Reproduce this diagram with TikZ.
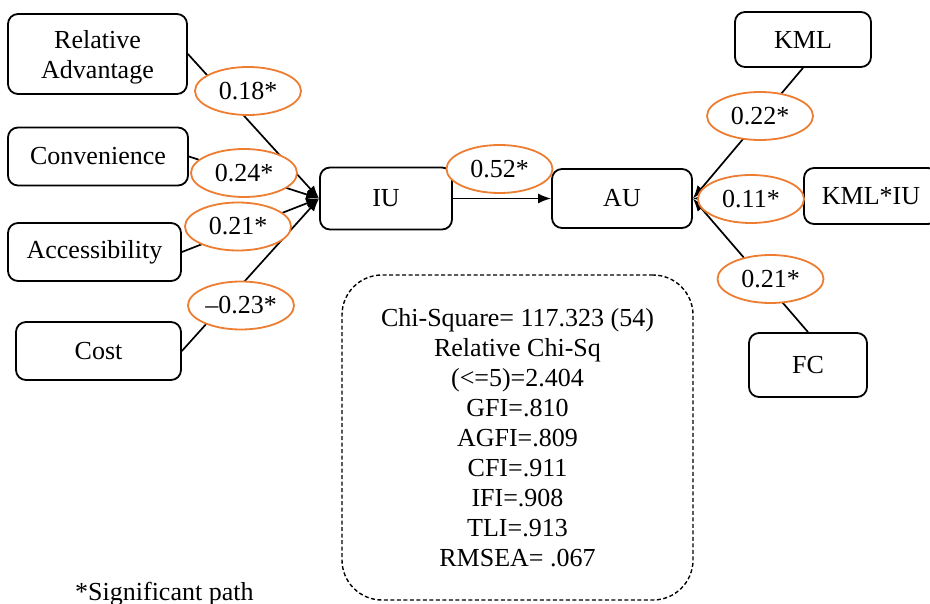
\documentclass[tikz,border=0pt]{standalone}
\usepackage{fontspec}
\setmainfont{Liberation Serif}
\usetikzlibrary{shapes.geometric,arrows.meta}
\definecolor{lblorange}{RGB}{237,125,49}
\begin{document}
\begin{tikzpicture}[x=1pt,y=-1pt,
 box/.style={draw,line width=1.8pt,rounded corners=10pt,inner sep=0pt,font=\fontsize{26}{30}\selectfont,align=center},
 coef/.style={ellipse,draw=lblorange,line width=1.8pt,fill=white,minimum width=106pt,minimum height=48pt,inner sep=0pt,font=\fontsize{26}{30}\selectfont},
 conn/.style={line width=1.7pt,-{Latex[length=13pt,width=10pt]}}]
\useasboundingbox (0,0) rectangle (930,604);
\node[box,minimum width=179pt,minimum height=80pt] (ra) at (97.5,54) {Relative\\\smash{Advantage}};
\node[box,minimum width=180pt,minimum height=58pt] (conv) at (98,156.5) {Convenience};
\node[box,minimum width=173pt,minimum height=58pt] (acc) at (94.5,252) {Accessibility};
\node[box,minimum width=165pt,minimum height=58pt] (cost) at (98.5,351) {Cost};
\node[box,minimum width=132pt,minimum height=62pt] (iu) at (386,198.5) {IU};
\node[box,minimum width=140pt,minimum height=59pt] (au) at (622,198.5) {AU};
\node[box,minimum width=136pt,minimum height=55pt] (kml) at (803,39.5) {KML};
\node[box,minimum width=134pt,minimum height=56pt] (kmliu) at (871,196) {KML*IU};
\node[box,minimum width=118pt,minimum height=64pt] (fc) at (808,365) {FC};
\node[box,rounded corners=40pt,dash pattern=on 4pt off 2.5pt,line width=1.4pt,minimum width=351pt,minimum height=325pt] (stats) at (517.5,437.5)
 {Chi-Square= 117.323 (54)\\Relative Chi-Sq\\(<=5)=2.404\\GFI=.810\\AGFI=.809\\CFI=.911\\IFI=.908\\TLI=.913\\RMSEA= .067};
\draw[conn] (ra.east) -- (iu.west);
\draw[conn] (conv.east) -- (iu.west);
\draw[conn] (acc.east) -- (iu.west);
\draw[conn] (cost.east) -- (iu.west);
\draw[conn] (iu.east) -- (au.west);
\draw[conn] (kml.south) -- (au.east);
\draw[conn] (kmliu.west) -- (au.east);
\draw[conn] (fc.north) -- (au.east);
\node[coef] (c1) at (248,91) {0.18*};
\node[coef] (c2) at (244,173) {0.24*};
\node[coef] (c3) at (238,226.5) {0.21*};
\node[coef] (c4) at (241,305.5) {–0.23*};
\node[coef] (c5) at (499.5,169) {0.52*};
\node[coef] (c6) at (760,116) {0.22*};
\node[coef] (c7) at (751,199) {0.11*};
\node[coef] (c8) at (770.5,279) {0.21*};
\node[anchor=base west,inner sep=0pt,font=\fontsize{26}{30}\selectfont] (sig) at (75,600) {*Significant path};
\end{tikzpicture}
\end{document}
